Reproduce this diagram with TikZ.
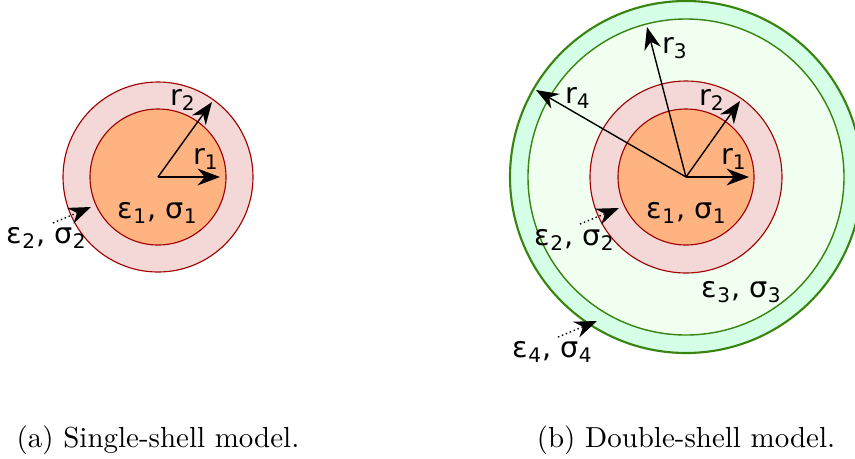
\documentclass[tikz,border=0pt]{standalone}
\usepackage{fontspec}
\newfontfamily\labelfont{DejaVu Sans}
\usetikzlibrary{arrows.meta}
\definecolor{coreorange}{HTML}{FFB380}
\definecolor{shellpink}{HTML}{F4D7D7}
\definecolor{shellred}{HTML}{A00000}
\definecolor{mediummint}{HTML}{F0FFF0}
\definecolor{ringmint}{HTML}{D5FFE6}
\definecolor{ringgreen}{HTML}{37850F}

\begin{document}
\begin{tikzpicture}[x=0.0125cm, y=-0.0125cm,
    radius arrow/.style={-{Stealth[length=8pt,width=6pt,inset=2.6pt]}, line width=0.5pt},
    pointer/.style={-{Stealth[length=8pt,width=6pt,inset=2.6pt]}, densely dotted, line width=0.5pt},
    lbl/.style={font=\labelfont\fontsize{10.2}{12}\selectfont, inner sep=0pt},
    caption/.style={font=\fontsize{10.3}{12.5}\selectfont, inner sep=0pt}]
    \useasboundingbox (0,0) rectangle (855,458);
    % single-shell model
    \coordinate (A) at (158,177);
    \filldraw[fill=shellpink, draw=shellred, line width=0.4pt] (A) circle[radius=95];
    \filldraw[fill=coreorange, draw=shellred, line width=0.4pt] (A) circle[radius=68];
    \coordinate (A1) at (220,177);
    \coordinate (A2) at (212,102);
    \draw[radius arrow] (A) -- (A1);
    \draw[radius arrow] (A) -- (A2);
    \node[lbl] (ar1) at (206,159) {r\textsubscript{1}};
    \node[lbl] (ar2) at (183,100) {r\textsubscript{2}};
    \node[lbl] (aeps1) at (158,213) {ε\textsubscript{1}, σ\textsubscript{1}};
    \node[lbl] (aeps2) at (47,238) {ε\textsubscript{2}, σ\textsubscript{2}};
    \coordinate (A3) at (53,223);
    \coordinate (A4) at (91,207);
    \draw[pointer] (A3) -- (A4);
    \node[caption] (capa) at (158,440) {(a) Single-shell model.};
    % double-shell model
    \coordinate (B) at (686,177);
    \filldraw[fill=ringmint, draw=ringgreen, line width=0.75pt] (B) circle[radius=176];
    \filldraw[fill=mediummint, draw=ringgreen, line width=0.5pt] (B) circle[radius=158];
    \filldraw[fill=shellpink, draw=shellred, line width=0.4pt] (B) circle[radius=96];
    \filldraw[fill=coreorange, draw=shellred, line width=0.4pt] (B) circle[radius=68];
    \coordinate (B1) at (749,177);
    \coordinate (B2) at (740,101);
    \coordinate (B3) at (647,27);
    \coordinate (B4) at (536,90);
    \draw[radius arrow] (B) -- (B1);
    \draw[radius arrow] (B) -- (B2);
    \draw[radius arrow] (B) -- (B3);
    \draw[radius arrow] (B) -- (B4);
    \node[lbl] (br1) at (734,159) {r\textsubscript{1}};
    \node[lbl] (br2) at (712,100) {r\textsubscript{2}};
    \node[lbl] (br3) at (675,48) {r\textsubscript{3}};
    \node[lbl] (br4) at (578,98) {r\textsubscript{4}};
    \node[lbl] (beps1) at (687,213) {ε\textsubscript{1}, σ\textsubscript{1}};
    \node[lbl] (beps2) at (575,240) {ε\textsubscript{2}, σ\textsubscript{2}};
    \node[lbl] (beps3) at (742,292) {ε\textsubscript{3}, σ\textsubscript{3}};
    \node[lbl] (beps4) at (553,352) {ε\textsubscript{4}, σ\textsubscript{4}};
    \coordinate (B5) at (580,224);
    \coordinate (B6) at (619,208);
    \coordinate (B7) at (558,337);
    \coordinate (B8) at (597,321);
    \draw[pointer] (B5) -- (B6);
    \draw[pointer] (B7) -- (B8);
    \node[caption] (capb) at (686,440) {(b) Double-shell model.};
\end{tikzpicture}
\end{document}
